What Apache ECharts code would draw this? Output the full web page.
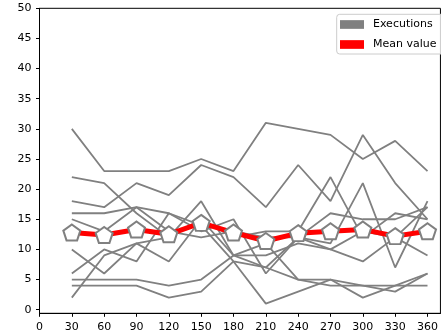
<!DOCTYPE html>
<html>
<head>
<meta charset="utf-8">
<script src="https://cdn.jsdelivr.net/npm/echarts@6/dist/echarts.min.js"></script>
<style>html,body{margin:0;padding:0;background:#fff}#c{width:441px;height:335px}</style>
</head>
<body>
<div id="c"></div>
<script>
var xs = [30, 60, 90, 120, 150, 180, 210, 240, 270, 300, 330, 360];
var xTicks = [0, 30, 60, 90, 120, 150, 180, 210, 240, 270, 300, 330, 360];
var yTicks = [0, 5, 10, 15, 20, 25, 30, 35, 40, 45, 50];
var exec1 = [30, 23, 23, 23, 25, 23, 31, 30, 29, 25, 28, 23];
var exec2 = [22, 21, 16, 12, 15, 12, 13, 13, 22, 12, 16, 15];
var exec3 = [18, 17, 21, 19, 24, 22, 17, 24, 18, 29, 21, 15];
var exec4 = [16, 16, 17, 13, 12, 13, 12, 12, 16, 15, 15, 17];
var exec5 = [15, 13, 17, 16, 13, 15, 6, 12, 11, 21, 7, 18];
var exec6 = [10, 6, 11, 8, 15, 9, 9, 11, 10, 8, 12, 17];
var exec7 = [6, 10, 8, 16, 14, 8, 7, 12, 10, 13, 12, 9];
var exec8 = [5, 5, 5, 4, 5, 9, 11, 5, 5, 4, 3, 6];
var exec9 = [4, 4, 4, 2, 3, 8, 1, 3, 5, 2, 4, 6];
var exec10 = [2, 9, 11, 12, 18, 9, 7, 5, 4, 4, 4, 4];
var meanValues = [12.8, 12.4, 13.3, 12.5, 14.4, 12.8, 11.4, 12.7, 13.0, 13.3, 12.2, 13.0];

var executions = [exec1, exec2, exec3, exec4, exec5, exec6, exec7, exec8, exec9, exec10];
function pairs(v) { return xs.map(function (x, i) { return [x, v[i]]; }); }

var FONT = 'DejaVu Sans';
var series = executions.map(function (e) {
  return {
    name: 'Executions', type: 'line', data: pairs(e), symbol: 'none',
    lineStyle: { color: '#808080', width: 1.8 }, itemStyle: { color: '#808080' },
    z: 2, silent: true
  };
});
series.push({
  name: 'Mean value', type: 'line', data: pairs(meanValues),
  symbol: 'path://M0,-1 L0.951,-0.309 L0.588,0.809 L-0.588,0.809 L-0.951,-0.309 Z',
  symbolSize: [17, 16], showAllSymbol: true,
  lineStyle: { color: '#ff0000', width: 5 },
  itemStyle: { color: '#ffffff', borderColor: '#808080', borderWidth: 2 },
  z: 5
});

var chart = echarts.init(document.getElementById('c'), null, { renderer: 'canvas' });
chart.setOption({
  animation: false,
  backgroundColor: '#fff',
  grid: { left: 39.5, top: 8.3, width: 403.5, height: 305, show: true, borderColor: '#000', borderWidth: 1, backgroundColor: 'transparent' },
  xAxis: {
    type: 'value', min: 0, max: 372,
    axisLine: { show: true, onZero: false, lineStyle: { color: '#000', width: 1 } },
    axisTick: { show: true, length: 3.5, lineStyle: { color: '#000' }, customValues: xTicks },
    axisLabel: { color: '#000', fontFamily: FONT, fontSize: 11, margin: 8, customValues: xTicks },
    splitLine: { show: false }
  },
  yAxis: {
    type: 'value', min: -0.6, max: 50,
    axisLine: { show: true, onZero: false, lineStyle: { color: '#000', width: 1 } },
    axisTick: { show: true, length: 3.5, lineStyle: { color: '#000' }, customValues: yTicks },
    axisLabel: { color: '#000', fontFamily: FONT, fontSize: 11, margin: 8, customValues: yTicks },
    splitLine: { show: false }
  },
  legend: {
    orient: 'vertical', left: 336.7, top: 14.3,
    padding: [4.7, 8, 4, 3.3], itemGap: 9, itemWidth: 24, itemHeight: 8.7,
    backgroundColor: 'rgba(255,255,255,0.8)', borderColor: '#cccccc', borderWidth: 1, borderRadius: 3,
    textStyle: { fontFamily: FONT, fontSize: 11, color: '#000', padding: [0, 0, 0, 4] },
    selectedMode: false,
    data: [
      { name: 'Executions', icon: 'rect', itemStyle: { color: '#808080', borderWidth: 0 }, lineStyle: { width: 0 } },
      { name: 'Mean value', icon: 'rect', itemStyle: { color: '#ff0000', borderWidth: 0 }, lineStyle: { width: 0 } }
    ]
  },
  series: series
});
</script>
</body>
</html>
